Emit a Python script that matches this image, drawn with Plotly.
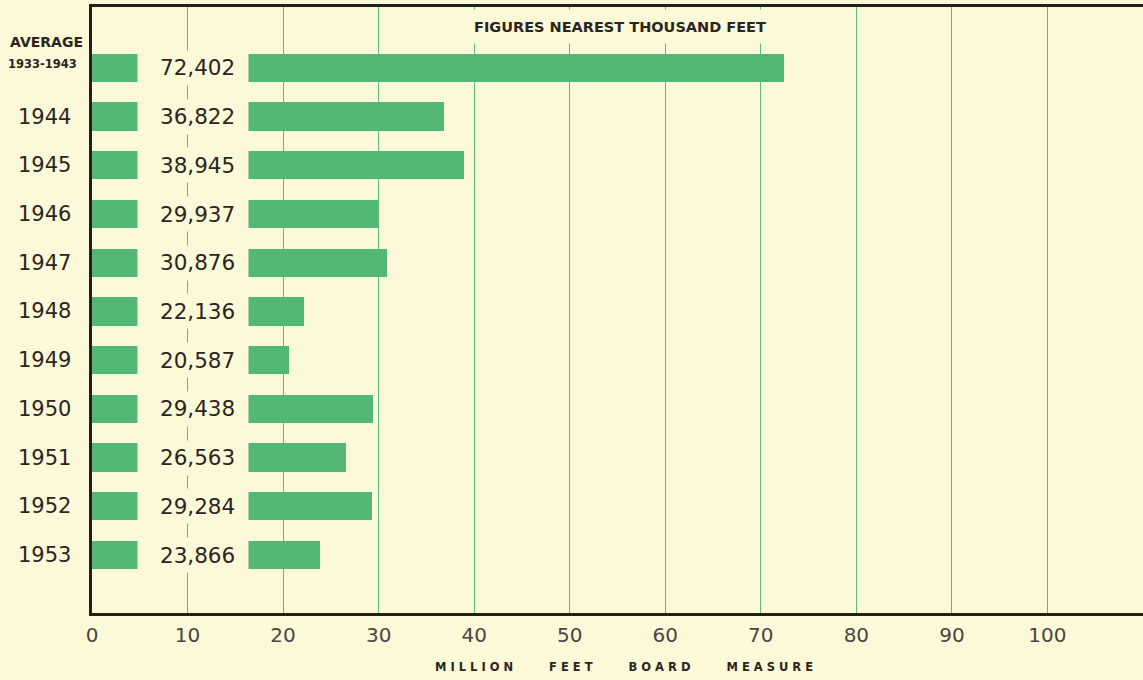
import plotly.graph_objects as go

# Lumber volume, thousand feet board measure
categories = ["AVERAGE 1933-1943", "1944", "1945", "1946", "1947", "1948",
              "1949", "1950", "1951", "1952", "1953"]
volumes_thousand = [72402, 36822, 38945, 29937, 30876, 22136,
                    20587, 29438, 26563, 29284, 23866]
x_ticks = [0, 10, 20, 30, 40, 50, 60, 70, 80, 90, 100]

BG = "#fbf9d8"
BAR = "#53b775"
GRID = "#5fba7c"
FRAME = "#241f1b"
TEXT = "#2b2522"
FONT = "DejaVu Sans"

volumes_million = [v / 1000 for v in volumes_thousand]
rows = list(range(len(categories)))

fig = go.Figure()
fig.add_trace(go.Bar(
    x=volumes_million, y=rows, orientation="h",
    marker=dict(color=BAR, line=dict(width=0)),
    width=0.58, hoverinfo="skip", showlegend=False,
))

annotations = []
GAP_END = 16.4  # where the bar resumes after the value label
for i, (cat, v) in enumerate(zip(categories, volumes_thousand)):
    # background patch that interrupts the bar behind the value label
    annotations.append(dict(
        x=GAP_END, y=i, xref="x", yref="y", xanchor="right", yanchor="middle",
        text=" ", showarrow=False, width=110, height=34, bgcolor=BG, borderpad=0,
    ))
    annotations.append(dict(
        x=GAP_END, y=i, xref="x", yref="y", xanchor="right", yanchor="middle",
        xshift=-12, text=f"{v:,}", showarrow=False,
        font=dict(family=FONT, size=21.5, color=TEXT),
    ))
    if i == 0:
        annotations.append(dict(
            x=0, y=i, xref="paper", yref="y", xanchor="right", yanchor="middle",
            xshift=-13, yshift=4, text="<b>1933-1943</b>", showarrow=False,
            font=dict(family=FONT, size=11.5, color=TEXT),
        ))
        annotations.append(dict(
            x=0, y=i, xref="paper", yref="y", xanchor="right", yanchor="middle",
            xshift=-7, yshift=26, text="<b>AVERAGE</b>", showarrow=False,
            font=dict(family=FONT, size=14, color=TEXT),
        ))
    else:
        annotations.append(dict(
            x=0, y=i, xref="paper", yref="y", xanchor="right", yanchor="middle",
            xshift=-19, text=cat, showarrow=False,
            font=dict(family=FONT, size=21, color=TEXT),
        ))

# heading on a patch that hides the grid lines above the first bar
annotations.append(dict(
    x=55.3, y=1, xref="x", yref="paper", xanchor="center", yanchor="top",
    yshift=-2, text="<b>FIGURES NEAREST THOUSAND FEET</b>", showarrow=False,
    width=306, height=17, borderpad=8, bgcolor=BG,
    font=dict(family=FONT, size=14.5, color=TEXT),
))

NB = "\u00a0"
axis_title = (NB * 9).join(NB.join(word) for word in "MILLION FEET BOARD MEASURE".split())
annotations.append(dict(
    x=0.5, y=0, xref="paper", yref="paper", xanchor="center", yanchor="middle",
    yshift=-54, xshift=6, text=f"<b>{axis_title}</b>", showarrow=False,
    font=dict(family=FONT, size=11.5, color=TEXT),
))

fig.update_layout(
    width=1143, height=680,
    margin=dict(l=92, r=0, t=7, b=67),
    paper_bgcolor=BG, plot_bgcolor=BG,
    bargap=0,
    annotations=annotations,
    xaxis=dict(
        range=[0, 110], tickvals=x_ticks, ticktext=[str(t) for t in x_ticks],
        showgrid=True, gridcolor=GRID, gridwidth=1,
        showline=True, linecolor=FRAME, linewidth=3, mirror=True,
        ticks="", ticklabelstandoff=2, zeroline=False,
        tickfont=dict(family=FONT, size=20, color="#4a4542"),
    ),
    yaxis=dict(
        range=[11.19, -1.25], showgrid=False, showticklabels=False,
        showline=True, linecolor=FRAME, linewidth=3, zeroline=False, ticks="",
    ),
)

fig.write_html("out.html")
